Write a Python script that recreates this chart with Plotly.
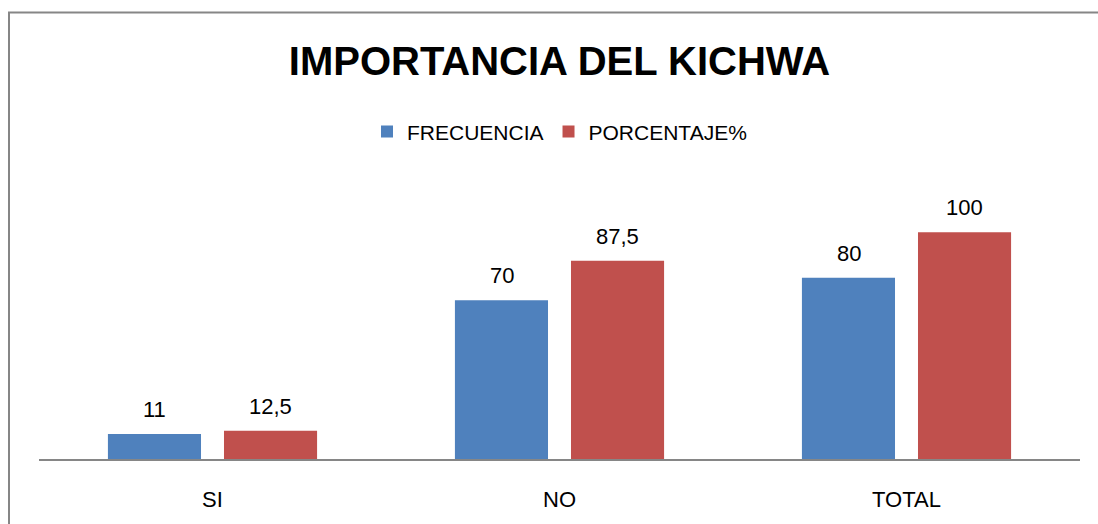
import plotly.graph_objects as go

categorias = ["SI", "NO", "TOTAL"]
frecuencia = [11, 70, 80]
porcentaje = [12.5, 87.5, 100]
series = ["FRECUENCIA", "PORCENTAJE%"]
colores = ["#4F81BD", "#C0504D"]

W, H = 1098, 524
L, R, T, B = 39, 18, 187, 61
plot_h = H - T - B

FONT = "Liberation Sans, Arial, sans-serif"


def fmt(v):
    return f"{v:g}".replace(".", ",")


fig = go.Figure()
for nombre, vals, col in zip(series, [frecuencia, porcentaje], colores):
    fig.add_trace(go.Bar(
        x=categorias, y=vals, name=nombre,
        marker=dict(color=col, line=dict(width=0)),
    ))

# etiquetas de datos, sobre cada barra
for vals, shift in zip([frecuencia, porcentaje], [-58, 58]):
    for c, v in zip(categorias, vals):
        fig.add_annotation(
            x=c, y=v, xref="x", yref="y", text=fmt(v),
            showarrow=False, yanchor="bottom", xshift=shift, yshift=10,
            font=dict(size=22, color="#000000", family=FONT),
        )

# borde del area del grafico
fig.add_shape(
    type="rect", xref="paper", yref="paper",
    x0=(9 - L) / (W - L - R), x1=1.2,
    y0=-0.5, y1=(H - B - 10) / plot_h,
    line=dict(color="#868686", width=2), fillcolor="rgba(0,0,0,0)",
    layer="below",
)

fig.update_layout(
    width=W, height=H,
    margin=dict(l=L, r=R, t=T, b=B),
    paper_bgcolor="white", plot_bgcolor="white",
    barmode="group", bargap=0.331, bargroupgap=0.198,
    separators=",.",
    font=dict(family=FONT, size=22, color="#000000"),
    title=dict(
        text="<b>IMPORTANCIA DEL KICHWA</b>",
        x=0.5, xref="paper", xanchor="center",
        y=1 - 61 / H, yref="container", yanchor="middle",
        font=dict(size=40, family=FONT, color="#000000"),
    ),
    legend=dict(
        orientation="h", x=0.5, xanchor="center",
        y=(H - B - 131) / plot_h, yanchor="middle",
        font=dict(size=21, family=FONT),
        bgcolor="rgba(0,0,0,0)",
    ),
    xaxis=dict(
        showline=True, linecolor="#868686", linewidth=2,
        ticks="", showgrid=False, ticklabelstandoff=20,
        tickfont=dict(size=22, family=FONT),
    ),
    yaxis=dict(range=[0, 120], visible=False, showgrid=False),
)

fig.write_html(
    "out.html",
    config={"displayModeBar": False},
    post_script="document.body.style.margin='0';",
)
